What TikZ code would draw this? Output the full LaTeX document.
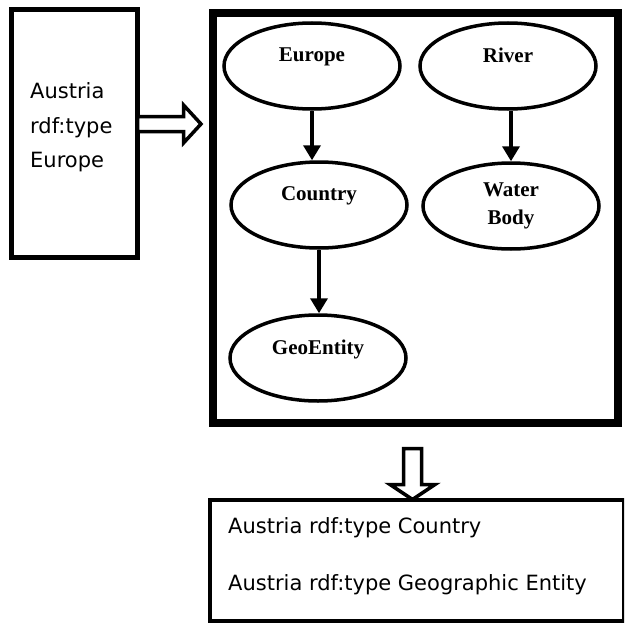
\documentclass[tikz,border=0pt]{standalone}
\usepackage{fontspec}
\setmainfont{DejaVu Sans}
\newfontfamily\timesfont{Liberation Serif}
\usetikzlibrary{arrows.meta,shapes.geometric}

\begin{document}
\begin{tikzpicture}[x=1pt,y=-1pt,>={Triangle[width=17pt,length=15pt]},
  box/.style={draw,line width=#1,inner sep=0pt,outer sep=0pt},
  class/.style={ellipse,draw,line width=3.5pt,minimum width=176pt,minimum height=86pt,
    inner sep=0pt,align=center,font=\timesfont\bfseries\fontsize{21}{22}\selectfont},
  txt/.style={inner sep=0pt,font=\fontsize{21}{34.5}\selectfont},
  hollow/.style={draw,line width=3.5pt,line join=miter,fill=white}]
  \useasboundingbox (0,0) rectangle (624,626);
  \clip (0,0) rectangle (624,626);
  % input triple
  \node[box=5pt,minimum width=126pt,minimum height=247pt] (input) at (74.5,133.5) {};
  \node[txt,align=left,anchor=west] (inputtext) at (30,127.3) {Austria\\rdf:type\\Europe};
  % ontology
  \node[box=8pt,minimum width=405.5pt,minimum height=410pt] (kb) at (415.25,218) {};
  \node[class] (europe) at (312,66) {Europe\\~};
  \node[class] (river) at (508,66) {River\\~};
  \node[class] (country) at (319,205) {Country\\~};
  \node[class] (water) at (511,206) {Water\\[6pt]Body};
  \node[class] (geo) at (318,358) {GeoEntity\\~};
  \draw[->,line width=3.5pt] (europe.south) -- (europe.south |- country.north);
  \draw[->,line width=3.5pt] (river.south -| water.north) -- (water.north);
  \draw[->,line width=3.5pt] (country.south) -- (country.south |- geo.north);
  % inferred triples
  \node[box=4pt,anchor=north west,minimum width=414pt,minimum height=121pt] (result) at (210,500) {};
  \node[txt,anchor=base west] (line1) at (228,533) {Austria rdf:type Country};
  \node[txt,anchor=base west] (line2) at (228,590) {Austria rdf:type Geographic Entity};
  % hollow arrows
  \coordinate (inTail) at (input.east |- 0,124);
  \draw[hollow] (inTail) ++(0,-7.5) -- ++(46,0) -- ++(0,-11.5) -- ++(17.5,19)
    -- ++(-17.5,19) -- ++(0,-11.5) -- ++(-46,0) -- cycle;
  \coordinate (outTop) at (412.5,448.5);
  \draw[hollow] (outTop) ++(-9,0) -- ++(18,0) -- ++(0,36) -- ++(13.5,0)
    -- ++(-22.5,15) -- ++(-22.5,-15) -- ++(13.5,0) -- cycle;
\end{tikzpicture}
\end{document}
